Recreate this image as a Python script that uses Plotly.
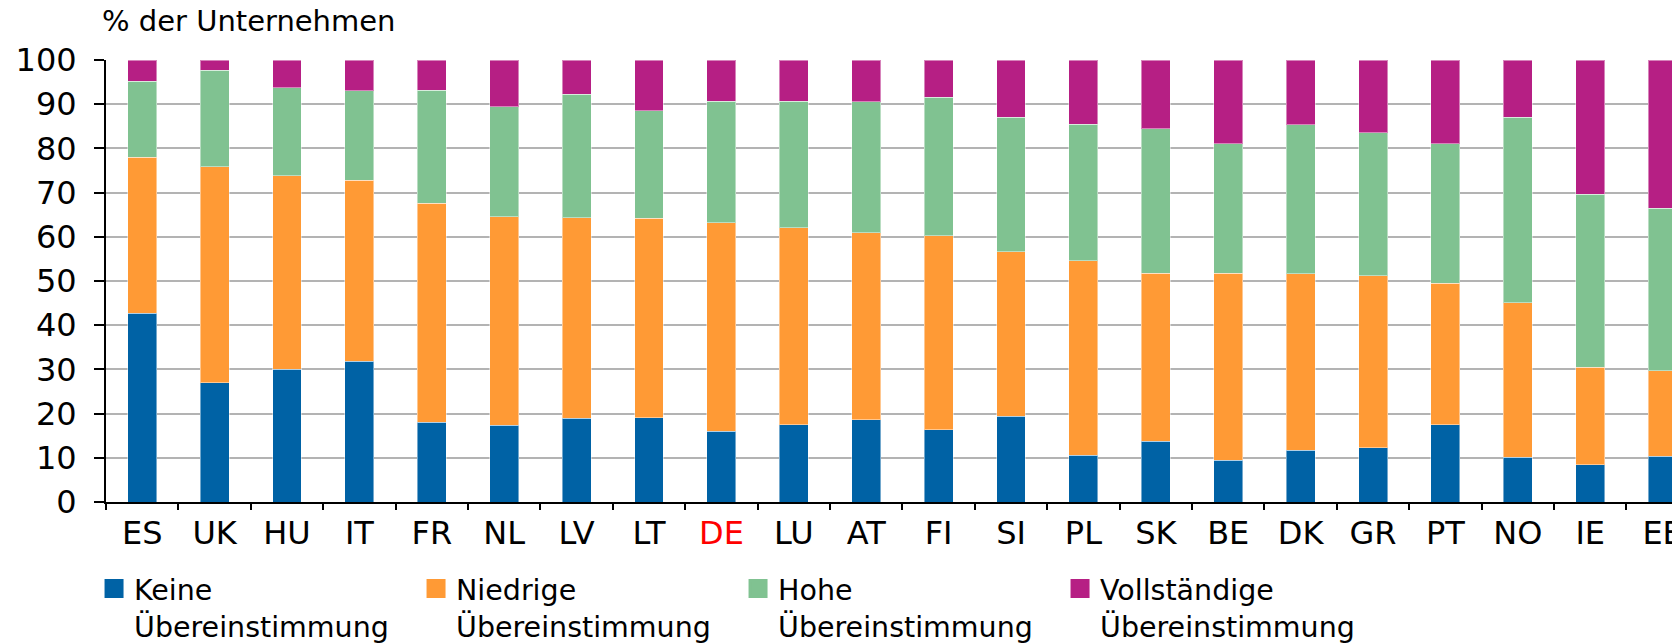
import plotly.graph_objects as go

countries = ["ES", "UK", "HU", "IT", "FR", "NL", "LV", "LT", "DE", "LU", "AT",
             "FI", "SI", "PL", "SK", "BE", "DK", "GR", "PT", "NO", "IE", "EE"]
tick_labels = [c if c != "DE" else '<span style="color:#ff0000">DE</span>' for c in countries]

keine = [42.7, 27.0, 30.0, 31.9, 18.1, 17.4, 18.9, 19.1, 16.0, 17.5, 18.6,
         16.3, 19.4, 10.6, 13.7, 9.5, 11.7, 12.3, 17.5, 10.1, 8.4, 10.3]
niedrige = [35.3, 48.8, 43.8, 40.9, 49.5, 47.1, 45.4, 45.1, 47.2, 44.6, 42.3,
            43.9, 37.2, 44.0, 38.1, 42.3, 39.9, 38.9, 32.0, 35.0, 22.1, 19.4]
hohe = [17.2, 21.9, 19.9, 20.3, 25.6, 24.9, 27.9, 24.3, 27.5, 28.6, 29.7,
        31.4, 30.5, 30.9, 32.6, 29.3, 33.8, 32.3, 31.6, 41.9, 39.1, 36.8]
vollstaendig = [4.8, 2.3, 6.3, 6.9, 6.8, 10.6, 7.8, 11.5, 9.3, 9.3, 9.4,
                8.4, 12.9, 14.5, 15.6, 18.9, 14.6, 16.5, 18.9, 13.0, 30.4, 33.5]

series_names = ["Keine<br>Übereinstimmung", "Niedrige<br>Übereinstimmung",
                "Hohe<br>Übereinstimmung", "Vollständige<br>Übereinstimmung"]
series_values = [keine, niedrige, hohe, vollstaendig]
colors = ["#0062a5", "#ff9a35", "#80c291", "#b61f84"]

FONT = "DejaVu Sans"

fig = go.Figure()
for name, vals, col in zip(series_names, series_values, colors):
    fig.add_trace(go.Bar(x=countries, y=vals, name=name, marker_color=col,
                         marker_line=dict(color="rgba(255,255,255,0.45)", width=1),
                         showlegend=False))
for name, col in zip(series_names, colors):
    fig.add_trace(go.Scatter(x=[None], y=[None], mode="markers", name=name,
                             marker=dict(symbol="square", size=16, color=col,
                                         line=dict(color=col, width=3))))

fig.update_layout(
    width=1672, height=636,
    barmode="stack", bargap=0.6,
    plot_bgcolor="white", paper_bgcolor="white",
    margin=dict(l=98, r=0, t=52, b=142, pad=0, autoexpand=False),
    font=dict(family=FONT, size=29, color="black"),
    legend=dict(orientation="h", traceorder="normal",
                x=-0.0076, xanchor="left", y=-0.139, yanchor="top",
                entrywidth=277, entrywidthmode="pixels", valign="top",
                font=dict(family=FONT, size=28.5), itemwidth=30,
                bgcolor="rgba(0,0,0,0)"),
    annotations=[dict(text="% der Unternehmen", xref="paper", yref="paper",
                      x=-0.004, y=1.088, xanchor="left", yanchor="middle",
                      showarrow=False, font=dict(family=FONT, size=29))],
)
fig.update_xaxes(
    type="category", categoryorder="array", categoryarray=countries,
    tickmode="array", tickvals=countries, ticktext=tick_labels,
    range=[-0.5, 21.24], showgrid=False, showline=True, linecolor="black", linewidth=2,
    ticks="outside", tickson="boundaries", ticklen=6, tickwidth=2, tickcolor="black",
    tickfont=dict(family=FONT, size=32), ticklabelstandoff=2,
)
fig.update_yaxes(
    range=[0, 100], tickmode="linear", tick0=0, dtick=10,
    showgrid=True, gridcolor="#b3b3b3", gridwidth=2, zeroline=False,
    showline=True, linecolor="black", linewidth=2,
    ticks="outside", ticklen=10, tickwidth=2, tickcolor="black",
    tickfont=dict(family=FONT, size=32), ticklabelstandoff=11,
)

fig.write_html("out.html")
